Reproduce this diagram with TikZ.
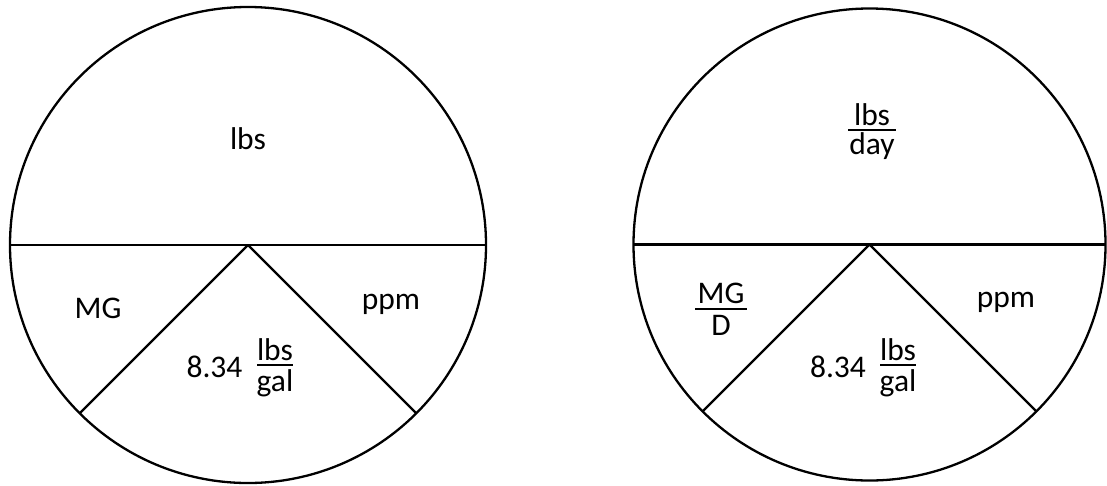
\documentclass[tikz,border=0pt]{standalone}
\usepackage{fontspec}
\setmainfont{Carlito}
\begin{document}
\begin{tikzpicture}[x=1pt,y=-1pt,line join=round]
\tikzset{
  dial/.style={circle, draw, line width=2.3pt, inner sep=0pt, outer sep=0pt},
  divider/.style={line width=2.8pt},
  spoke/.style={line width=2.2pt},
  lbl/.style={font=\fontsize{31.5}{36}\selectfont, inner sep=0pt, anchor=base},
  bar/.style={line width=2pt},
}
\useasboundingbox (0,0) rectangle (1107,485);

% ---- left wheel: pounds ----
\node[dial, minimum size=476pt] (L) at (248,245) {};
\draw[divider] (L.west) -- (L.east);
\draw[spoke] (L.-135) -- (L.center) -- (L.-45);

\node[lbl] (Llbs) at (248,149) {lbs};
\node[lbl] (Lmg)  at (98,318)  {MG};
\node[lbl] (Lppm) at (391,309) {ppm};
\node[lbl] (Lk)   at (214.5,377) {8.34};
\node[lbl] (Lnum) at (275,360) {lbs};
\node[lbl] (Lden) at (275,391) {gal};
\draw[bar] (257,364.5) -- (293,364.5);

% ---- right wheel: pounds per day ----
\node[dial, minimum size=472pt] (R) at (869.5,244.5) {};
\draw[divider] (R.west) -- (R.east);
\draw[spoke] (R.-135) -- (R.center) -- (R.-45);

\node[lbl] (Rnum) at (872,125) {lbs};
\node[lbl] (Rden) at (872,154) {day};
\draw[bar] (848,129.5) -- (896,129.5);

\node[lbl] (Rmg)  at (721,303) {MG};
\node[lbl] (Rd)   at (721,335) {D};
\draw[bar] (695,308.5) -- (747,308.5);

\node[lbl] (Rppm) at (1006,307) {ppm};
\node[lbl] (Rk)   at (838,377) {8.34};
\node[lbl] (Rfn)  at (898,360) {lbs};
\node[lbl] (Rfd)  at (898,391) {gal};
\draw[bar] (880,364.5) -- (916,364.5);
\end{tikzpicture}
\end{document}
